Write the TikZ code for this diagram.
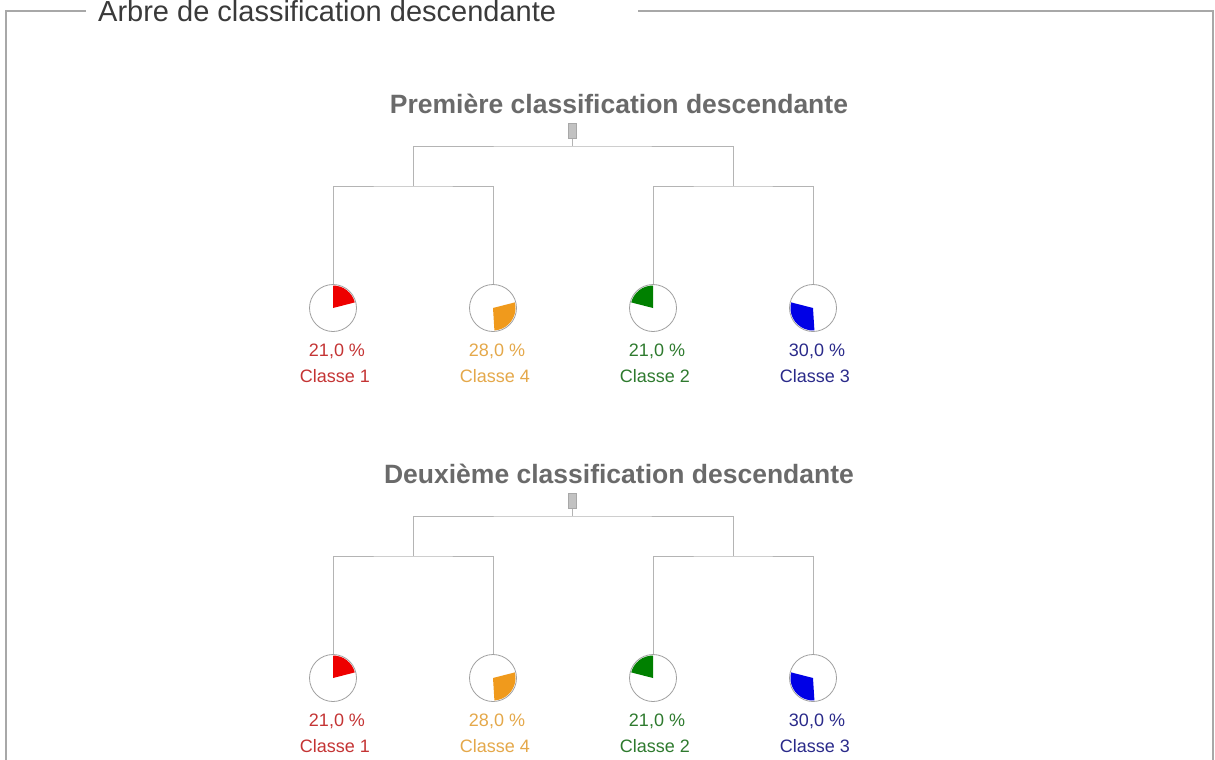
\documentclass[tikz,border=0pt]{standalone}
\usepackage{fontspec}
\setmainfont{Liberation Sans}
\definecolor{framec}{HTML}{A8A8A8}
\definecolor{titlec}{HTML}{3A3A3A}
\definecolor{headc}{HTML}{6A6A6A}
\definecolor{treec}{HTML}{B4B4B4}
\definecolor{ringc}{HTML}{A0A0A0}
\definecolor{rootc}{HTML}{A8A8A8}
\definecolor{redf}{HTML}{EE0000}
\definecolor{orangef}{HTML}{F09A1C}
\definecolor{greenf}{HTML}{008000}
\definecolor{bluef}{HTML}{0000E6}
\definecolor{redt}{HTML}{C43434}
\definecolor{oranget}{HTML}{E4A84A}
\definecolor{greent}{HTML}{2E7A2E}
\definecolor{bluet}{HTML}{2A2A8A}
\newcommand\myslice[4]{\fill[#4] (#1.center) -- ++(#2:22.5pt) arc[start angle=#2, end angle=#3, radius=22.5pt] -- cycle;}
\begin{document}
\begin{tikzpicture}[x=1pt,y=1pt,
  frameline/.style={draw=framec,line width=1.6pt},
  treeline/.style={draw=treec,line width=1pt},
  ring/.style={circle,draw=ringc,line width=0.8pt,minimum size=47pt,inner sep=0pt,fill=white},
  rootbox/.style={rectangle,draw=rootc,fill=rootc!70,line width=0.6pt,minimum width=8pt,minimum height=15pt,inner sep=0pt},
  head/.style={anchor=base,text=headc,font=\fontsize{26.5}{28}\selectfont\bfseries,inner sep=0pt},
  pct/.style={anchor=base,font=\fontsize{18}{20}\selectfont,inner sep=0pt},
]
\useasboundingbox (0,0) rectangle (1215,-760);
% frame
\node[anchor=base west,inner sep=0pt,text=titlec,font=\fontsize{29}{31}\selectfont] (title) at (98,-22) {Arbre de classification descendante};
\coordinate (fl) at (86,-11);
\coordinate (fr) at (638,-11);
\draw[frameline] (fl) -- (6,-11) -- (6,-770);
\draw[frameline] (fr) -- (1213,-11) -- (1213,-770);
\foreach \t/\oy/\hd in {A/0/Première classification descendante, B/370/Deuxième classification descendante}{
  \begin{scope}[yshift=-\oy pt]
    \node[head] (\t head) at (619,-113) {\hd};
    \node[rootbox] (\t root) at (572,-131) {};
    \coordinate (\t top) at (572,-146);
    \coordinate (\t L) at (413,-186);
    \coordinate (\t R) at (733,-186);
    \node[ring] (\t p1) at (333,-308) {};
    \node[ring] (\t p4) at (493,-308) {};
    \node[ring] (\t p2) at (653,-308) {};
    \node[ring] (\t p3) at (813,-308) {};
    \draw[treeline] (\t root.south) -- (\t top);
    \draw[treeline] (\t L) |- (\t top) -| (\t R);
    \draw[treeline] (\t p1.north) |- (\t L) -| (\t p4.north);
    \draw[treeline] (\t p2.north) |- (\t R) -| (\t p3.north);
    \myslice{\t p1}{90}{14.4}{redf}
    \myslice{\t p4}{14.4}{-86.4}{orangef}
    \myslice{\t p3}{165.6}{273.6}{bluef}
    \myslice{\t p2}{90}{165.6}{greenf}
    \node[pct,text=redt] (\t a1) at (337,-356) {21,0 \%};
    \node[pct,text=redt] (\t c1) at (335,-382) {Classe 1};
    \node[pct,text=oranget] (\t a4) at (497,-356) {28,0 \%};
    \node[pct,text=oranget] (\t c4) at (495,-382) {Classe 4};
    \node[pct,text=greent] (\t a2) at (657,-356) {21,0 \%};
    \node[pct,text=greent] (\t c2) at (655,-382) {Classe 2};
    \node[pct,text=bluet] (\t a3) at (817,-356) {30,0 \%};
    \node[pct,text=bluet] (\t c3) at (815,-382) {Classe 3};
  \end{scope}
}
\end{tikzpicture}
\end{document}
